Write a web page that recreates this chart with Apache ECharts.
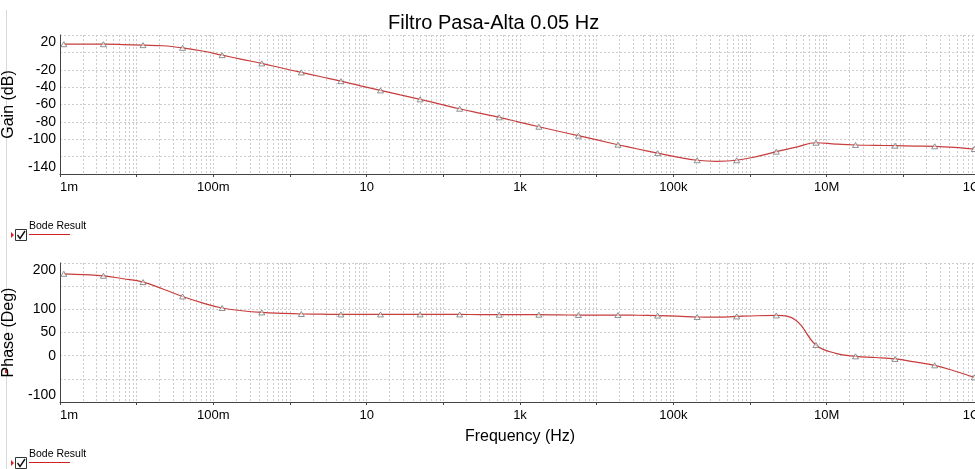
<!DOCTYPE html>
<html>
<head>
<meta charset="utf-8">
<script src="https://cdn.jsdelivr.net/npm/echarts@6/dist/echarts.min.js"></script>
<style>
  html, body { margin: 0; padding: 0; background: #fff; }
  #chart-container { width: 975px; height: 469px; }
</style>
</head>
<body>
<div id="chart-container"></div>
<script>
var dom = document.getElementById('chart-container');
var myChart = echarts.init(dom, null, { renderer: 'canvas' });

// frequency points (Hz), every other one carries a triangle marker
var freq = [0.001122, 0.002032, 0.003681, 0.006668, 0.01211, 0.02193, 0.03972, 0.07194,
  0.1303, 0.2360, 0.4285, 0.7762, 1.406, 2.547, 4.613, 8.356,
  15.14, 27.48, 49.77, 90.16, 163.3, 295.8, 535.8, 970.6,
  1762, 3192, 5781, 10470, 18970, 34430, 62370, 113000,
  204600, 370700, 671400, 1216000, 2203000, 3999000, 7244000, 13120000,
  23770000, 43050000, 77980000, 141300000, 256400000, 464500000, 841400000];

// gain (dB)
var gain = [9.4, 9.4, 9.4, 9.0, 8.3, 7.6, 5.2, 1.6,
  -3.2, -8.0, -12.7, -18.0, -23.1, -28.1, -33.1, -38.5,
  -43.8, -49.0, -54.1, -59.5, -64.9, -69.9, -74.8, -80.2,
  -85.6, -90.8, -95.9, -101.1, -106.3, -111.2, -116.0, -120.6,
  -124.2, -125.4, -124.2, -120.0, -114.3, -109.0, -104.0, -105.5,
  -106.6, -107.0, -107.4, -107.8, -108.1, -109.3, -111.2];

// phase (deg)
var phase = [176.7, 175, 172.4, 166, 158.8, 144, 127.8, 114,
  102.8, 97, 93.3, 91.3, 89.9, 89.5, 89, 89,
  89, 89, 89, 89, 89, 88.7, 88.4, 88.4,
  88.4, 88, 87.7, 87.7, 87.7, 87.2, 86.5, 85.3,
  83.4, 83, 84.7, 86.2, 86.8, 76, 23.1, 5,
  -1.5, -4, -7.1, -13.5, -20.9, -33, -46.8];

// frequency tick labels by decade exponent
var freqTickExp = [-3, -1, 1, 3, 5, 7, 9];
var freqTickText = ['1m', '100m', '10', '1k', '100k', '10M', '1G'];

var gainHidden = [0, -120];
var phaseHidden = [150, -50];

var gridColor = '#cdcdcd';
var axisColor = '#444';
var curveColor = '#c83c3c';

function freqLabel(v) {
  var e = Math.round(Math.log10(v));
  var i = freqTickExp.indexOf(e);
  return i < 0 ? '' : freqTickText[i];
}

function makeX(idx, withName) {
  var ax = {
    type: 'log',
    logBase: 10,
    gridIndex: idx,
    min: 0.001,
    max: 1e9,
    interval: 1,
    axisLine: { onZero: false, lineStyle: { color: axisColor, width: 1 } },
    axisTick: { show: true, length: 3, lineStyle: { color: axisColor } },
    axisLabel: {
      formatter: freqLabel,
      margin: 7,
      fontSize: 13,
      color: '#000',
      fontFamily: 'Liberation Sans',
      alignMinLabel: 'left',
      alignMaxLabel: 'right'
    },
    splitLine: { show: true, lineStyle: { color: gridColor, type: [2, 2] } },
    minorTick: { show: false, splitNumber: 9 },
    minorSplitLine: { show: true, lineStyle: { color: gridColor, type: [2, 2] } }
  };
  if (withName) {
    ax.name = 'Frequency (Hz)';
    ax.nameLocation = 'middle';
    ax.nameGap = 27;
    ax.nameTextStyle = { fontSize: 16, color: '#000', fontFamily: 'Liberation Sans' };
  }
  return ax;
}

function makeY(idx, name, min, max, interval, hidden) {
  return {
    type: 'value',
    gridIndex: idx,
    min: min,
    max: max,
    interval: interval,
    name: name,
    nameLocation: 'middle',
    nameGap: 29,
    nameTextStyle: { fontSize: 16, color: '#000', fontFamily: 'Liberation Sans' },
    axisLine: { show: true, lineStyle: { color: axisColor, width: 1 } },
    axisTick: { show: false },
    axisLabel: {
      formatter: function (v) { return hidden.indexOf(v) >= 0 ? '' : String(v); },
      margin: 4,
      fontSize: 14,
      color: '#000',
      fontFamily: 'Liberation Sans',
      verticalAlignMaxLabel: 'top',
      verticalAlignMinLabel: 'bottom'
    },
    splitLine: { show: true, lineStyle: { color: gridColor, type: [2, 2] } }
  };
}

function makeSeries(idx, values) {
  return {
    type: 'line',
    xAxisIndex: idx,
    yAxisIndex: idx,
    data: freq.map(function (f, i) { return [f, values[i]]; }),
    smooth: 0.4,
    showAllSymbol: true,
    symbol: function (v, p) { return p.dataIndex % 2 === 0 ? 'triangle' : 'none'; },
    symbolSize: [6, 5],
    lineStyle: { color: curveColor, width: 1.2 },
    itemStyle: { color: 'rgba(255,255,255,0.6)', borderColor: '#777', borderWidth: 0.8 },
    silent: true,
    animation: false
  };
}

function legendMark(y) {
  return [
    { type: 'polygon', shape: { points: [[11, y + 3], [14, y + 6], [11, y + 9]] }, style: { fill: '#e02020' } },
    { type: 'rect', shape: { x: 15.5, y: y + 0.5, width: 11, height: 11 }, style: { fill: '#fff', stroke: '#333', lineWidth: 1 } },
    { type: 'polyline', shape: { points: [[17.5, y + 6], [20, y + 9.5], [25, y + 2]] }, style: { stroke: '#111', lineWidth: 1.4, fill: null } },
    { type: 'text', style: { x: 29, y: y - 8, text: 'Bode Result', fontSize: 10.5, fontFamily: 'Liberation Sans', fill: '#000' } },
    { type: 'line', shape: { x1: 29, y1: y + 5.5, x2: 70, y2: y + 5.5 }, style: { stroke: '#d02020', lineWidth: 1 } }
  ];
}

var option = {
  animation: false,
  backgroundColor: '#fff',
  title: {
    text: 'Filtro Pasa-Alta 0.05 Hz',
    left: 383,
    top: 8,
    textStyle: { fontSize: 20, fontWeight: 'normal', color: '#000', fontFamily: 'Liberation Sans' }
  },
  grid: [
    { left: 60, top: 35, width: 920, height: 139, outerBoundsMode: 'none', containLabel: false },
    { left: 60, top: 263, width: 920, height: 139, outerBoundsMode: 'none', containLabel: false }
  ],
  xAxis: [makeX(0, false), makeX(1, true)],
  yAxis: [
    makeY(0, 'Gain (dB)', -140, 20, 20, gainHidden),
    makeY(1, 'Phase (Deg)', -100, 200, 50, phaseHidden)
  ],
  series: [makeSeries(0, gain), makeSeries(1, phase)],
  graphic: [
    { type: 'line', shape: { x1: 6.5, y1: 10, x2: 6.5, y2: 469 }, style: { stroke: '#d8d8d8', lineWidth: 1 } },
    { type: 'rect', shape: { x: 5, y: 370, width: 2, height: 3 }, style: { fill: '#e02020' } }
  ].concat(legendMark(229)).concat(legendMark(457))
};

myChart.setOption(option);
window.addEventListener('resize', myChart.resize);
</script>
</body>
</html>
